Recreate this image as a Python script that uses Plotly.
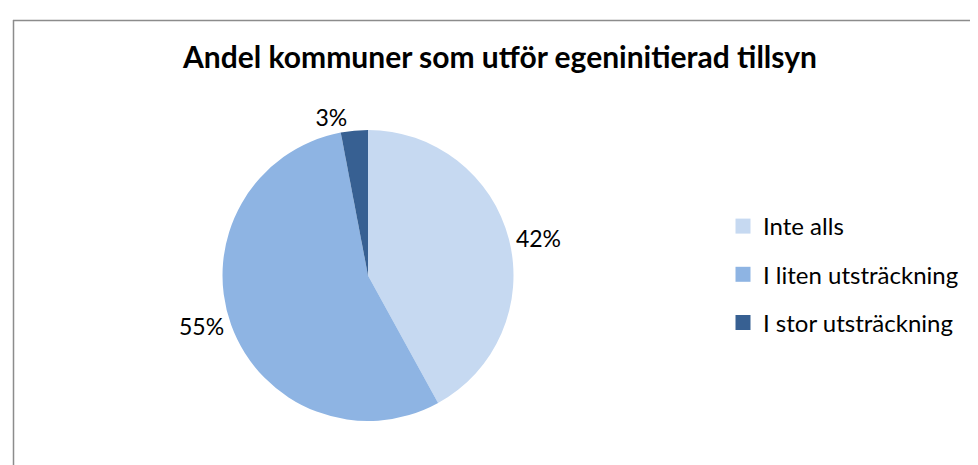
import plotly.graph_objects as go

categories = ["Inte alls", "I liten utsträckning", "I stor utsträckning"]
values = [42, 55, 3]
colors = ["#C6D9F1", "#8EB4E3", "#376092"]
title_text = "Andel kommuner som utför egeninitierad tillsyn"

W, H = 978, 465
fnt = "Lato, 'Open Sans', sans-serif"

fig = go.Figure()
fig.add_trace(go.Pie(
    labels=categories,
    values=values,
    sort=False,
    direction="clockwise",
    rotation=0,
    marker=dict(colors=colors, line=dict(width=0)),
    textinfo="percent",
    texttemplate="%{percent:.0%}",
    textposition="outside",
    textfont=dict(family=fnt, size=23, color="#000000"),
    domain=dict(x=[214 / W, 506 / W], y=[(H - 413) / H, (H - 122) / H]),
    hoverinfo="label+percent",
    showlegend=False,
))

# legend entries (one per category), drawn as squares
for i, (cat, col) in enumerate(zip(categories, colors)):
    fig.add_trace(go.Scatter(
        x=[None], y=[None], mode="markers", name=cat,
        marker=dict(symbol="square", size=15, color=col),
        legendgroup="g%d" % i, showlegend=True, hoverinfo="skip",
    ))

fig.update_layout(
    width=W, height=H,
    margin=dict(l=0, r=0, t=0, b=0),
    paper_bgcolor="white",
    plot_bgcolor="white",
    xaxis=dict(visible=False),
    yaxis=dict(visible=False),
    font=dict(family=fnt, size=24, color="#000000"),
    title=dict(text="<b>" + title_text + "</b>", x=492 / W, xanchor="center",
               y=1 - 49 / H, yanchor="middle",
               font=dict(family=fnt, size=30, color="#000000")),
    showlegend=True,
    legend=dict(x=715 / W, y=1 - 196 / H, xanchor="left", yanchor="top",
                font=dict(family=fnt, size=24, color="#000000"),
                tracegroupgap=14, itemwidth=30, bgcolor="rgba(0,0,0,0)"),
    shapes=[
        dict(type="line", xref="paper", yref="paper", x0=5 / W, x1=1.0,
             y0=1 - 12.5 / H, y1=1 - 12.5 / H, line=dict(color="#8C8C8C", width=1.5)),
        dict(type="line", xref="paper", yref="paper", x0=5.5 / W, x1=5.5 / W,
             y0=0, y1=1 - 12 / H, line=dict(color="#8C8C8C", width=1.5)),
    ],
)

fig.write_html("out.html")
